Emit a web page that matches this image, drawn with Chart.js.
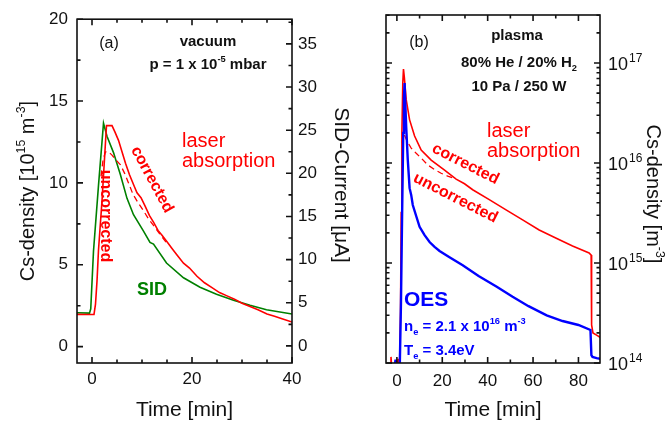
<!DOCTYPE html>
<html>
<head>
<meta charset="utf-8">
<script src="https://cdn.jsdelivr.net/npm/chart.js@4.4.0/dist/chart.umd.min.js"></script>
<style>
  html, body { margin: 0; padding: 0; background: #fff; }
  #wrap { position: relative; width: 668px; height: 427px; }
  #wrap canvas { position: absolute; left: 0; top: 0; }
</style>
</head>
<body>
<div id="wrap">
  <canvas id="panelA" width="668" height="427"></canvas>
  <canvas id="panelB" width="668" height="427"></canvas>
</div>
<script>
// ---- (a) vacuum: Cs density [1e15 m^-3] and SID current [uA] vs time [min]
var tCorrA = [-3, -1.5, 0.4, 0.7, 1.0, 1.3, 2.0, 2.7, 2.9, 3.5, 4.0, 4.6, 5.3, 6.0, 6.7, 7.5, 8.3, 9.0, 9.8, 10.6,
              11.5, 12.3, 13.2, 14.0, 15.0, 16.0, 17.0, 18.3, 19.5, 21.0, 22.5, 24.0, 25.5, 27.0, 28.5, 30.0, 31.6, 33.2, 35.0, 36.5, 38.0, 40.0];
var nCorrA = [1.97, 1.96, 1.97, 2.6, 4.0, 5.9, 8.9, 12.5, 13.5, 13.5, 13.5, 13.1, 12.6, 11.9, 11.2, 10.5, 9.9, 9.4, 9.1, 8.6,
              8.0, 7.6, 7.1, 6.8, 6.4, 6.0, 5.6, 5.1, 4.8, 4.3, 3.9, 3.6, 3.3, 3.1, 2.9, 2.65, 2.45, 2.25, 2.0, 1.85, 1.7, 1.5];

var tUncorrA = [1.8, 2.2, 2.7, 3.3, 4.0, 4.8, 5.7, 6.5, 7.3, 8.2, 9.2, 10.3, 11.3, 12.3, 13.5, 15.0];
var nUncorrA = [10.4, 11.4, 11.9, 11.9, 11.7, 11.4, 11.1, 10.6, 10.0, 9.3, 8.8, 8.3, 7.8, 7.4, 6.9, 6.3];

var tSidA = [-3, -0.5, -0.25, 0.3, 1.3, 2.3, 3.0, 4.3, 5.7, 7.0, 8.3, 10.3, 11.6, 12.3, 14.9, 18.3, 21.6, 24.9, 28.3, 31.6, 34.9, 40];
var iSidA = [3.85, 3.8, 4.3, 11.0, 18.6, 25.8, 24.3, 22.4, 19.8, 17.1, 15.2, 13.3, 12.0, 11.8, 9.6, 7.9, 6.8, 6.0, 5.3, 4.7, 4.2, 3.7];

var xMajorA = [0, 20, 40];
var xMinorA = [5, 10, 15, 25, 30, 35];
var yMajorA = [0, 5, 10, 15, 20];
var yMinorA = [2.5, 7.5, 12.5, 17.5];
var sidMajor = [0, 5, 10, 15, 20, 25, 30, 35];
var sidMinor = [2.5, 7.5, 12.5, 17.5, 22.5, 27.5, 32.5, 37.5];

// ---- (b) plasma: Cs density [m^-3] (laser absorption) and OES signal vs time [min]
var tCorrB = [-5, -3.0, -2.6, -2.3, 0.2, 0.5, 0.8, 1.2, 1.6, 1.9, 2.2, 2.6, 2.9, 3.3, 4.1, 5.6, 7.8, 10.7, 15.1, 21.0,
              26.1, 29.8, 33.4, 40.7, 48.1, 55.4, 62.7, 70.0, 77.4, 84.7, 85.6, 85.8, 86.4, 88.0, 90.0];
var nCorrB = [0.92e14, 0.92e14, 1.15e14, 0.92e14, 0.92e14, 1.1e14, 0.95e14, 1.0e14, 3.2e14, 3.2e15, 2.0e16, 6.3e16, 8.7e16, 7.1e16, 4.3e16, 2.7e16, 1.86e16, 1.35e16, 1.07e16, 8.5e15,
              6.9e15, 6.2e15, 5.4e15, 4.3e15, 3.4e15, 2.7e15, 2.14e15, 1.78e15, 1.48e15, 1.26e15, 1.2e15, 2.4e14, 2.0e14, 1.9e14, 1.78e14];

var tUncorrB = [2.2, 3.1, 4.5, 6.3, 8.5, 10.7, 13.5, 16.6, 19.5, 22.4, 26.0];
var nUncorrB = [1.6e16, 1.95e16, 1.65e16, 1.41e16, 1.25e16, 1.12e16, 9.6e15, 8.6e15, 7.9e15, 7.4e15, 6.9e15];

var tOes = [-5, -1.0, -0.6, -0.3, 1.3, 1.8, 2.3, 2.8, 3.1, 3.4, 3.7, 4.1, 4.8, 5.6, 6.3, 7.0, 8.5, 10.0, 12.2, 14.4,
            16.6, 18.8, 23.0, 29.0, 36.0, 44.0, 51.0, 58.0, 66.0, 73.0, 80.0, 85.3, 85.7, 86.2, 88.0, 90.0];
var nOes = [0.9e14, 0.9e14, 1.08e14, 0.9e14, 1.0e14, 4e14, 3e15, 2e16, 4.5e16, 6.3e16, 4.0e16, 2.3e16, 1.07e16, 5.6e15, 4.8e15, 3.8e15, 2.95e15, 2.3e15, 1.9e15, 1.62e15,
            1.45e15, 1.32e15, 1.15e15, 9.5e14, 7.4e14, 5.8e14, 4.6e14, 3.7e14, 3.0e14, 2.63e14, 2.4e14, 2.14e14, 1.2e14, 1.15e14, 1.12e14, 1.1e14];

var xMajorB = [0, 20, 40, 60, 80];
var xMinorB = [10, 30, 50, 70];
var decadesB = [1e14, 1e15, 1e16, 1e17];
var decadeExp = ['14', '15', '16', '17'];

var RED = '#ff0000', GREEN = '#008000', BLUE = '#0000ff', INK = '#111111';
var FONT = "'Liberation Sans', Arial, Helvetica, sans-serif";
Chart.defaults.font.family = FONT;
Chart.defaults.color = INK;

function pts(xs, ys) {
    return xs.map(function (x, i) { return { x: x, y: ys[i] }; });
}

// text with super/subscript pieces: parts = [[text, ''|'sup'|'sub'], ...], y is the baseline
function rich(ctx, parts, x, y, size, weight, align) {
    var small = size * 0.62;
    var fontFor = function (k) { return weight + ' ' + (k ? small : size) + 'px ' + FONT; };
    var w = 0;
    parts.forEach(function (p) { ctx.font = fontFor(p[1]); w += ctx.measureText(p[0]).width; });
    var cx = align === 'center' ? x - w / 2 : (align === 'right' ? x - w : x);
    ctx.textAlign = 'left';
    ctx.textBaseline = 'alphabetic';
    parts.forEach(function (p) {
        ctx.font = fontFor(p[1]);
        var dy = p[1] === 'sup' ? -size * 0.45 : (p[1] === 'sub' ? size * 0.28 : 0);
        ctx.fillText(p[0], cx, y + dy);
        cx += ctx.measureText(p[0]).width;
    });
}

// rotated labels are placed by their centre, flat ones by their baseline
function label(ctx, parts, x, y, size, weight, color, align, angle) {
    ctx.save();
    ctx.fillStyle = color;
    ctx.translate(x, y);
    if (angle) {
        ctx.rotate(angle * Math.PI / 180);
        rich(ctx, parts, 0, size * 0.35, size, weight, 'center');
    } else {
        rich(ctx, parts, 0, 0, size, weight, align);
    }
    ctx.restore();
}

// inward tick marks
function ticksX(ctx, a, scale, values, len) {
    values.forEach(function (v) {
        var p = scale.getPixelForValue(v);
        ctx.moveTo(p, a.bottom); ctx.lineTo(p, a.bottom - len);
        ctx.moveTo(p, a.top); ctx.lineTo(p, a.top + len);
    });
}
function ticksY(ctx, a, scale, values, len, onLeft, onRight) {
    values.forEach(function (v) {
        var p = scale.getPixelForValue(v);
        if (p < a.top - 0.5 || p > a.bottom + 0.5) return;
        if (onLeft) { ctx.moveTo(a.left, p); ctx.lineTo(a.left + len, p); }
        if (onRight) { ctx.moveTo(a.right, p); ctx.lineTo(a.right - len, p); }
    });
}
function frame(ctx, a) {
    ctx.strokeStyle = INK;
    ctx.lineWidth = 1.6;
    ctx.strokeRect(a.left, a.top, a.right - a.left, a.bottom - a.top);
}

var decorA = {
    id: 'decorA',
    afterDraw: function (chart) {
        var ctx = chart.ctx, a = chart.chartArea, s = chart.scales;
        ctx.save();
        frame(ctx, a);
        ctx.beginPath();
        ticksX(ctx, a, s.x, xMajorA, 6);
        ticksX(ctx, a, s.x, xMinorA, 3.5);
        ticksY(ctx, a, s.y, yMajorA, 6, true, false);
        ticksY(ctx, a, s.y, yMinorA, 3.5, true, false);
        ticksY(ctx, a, s.ySid, sidMajor, 6, false, true);
        ticksY(ctx, a, s.ySid, sidMinor, 3.5, false, true);
        ctx.stroke();

        // axis titles
        var cy = (a.top + a.bottom) / 2;
        label(ctx, [['Cs-density [10', ''], ['15', 'sup'], [' m', ''], ['-3', 'sup'], [']', '']], 27, cy, 20, 'normal', INK, 'center', -90);
        label(ctx, [['SID-Current [\u03bcA]', '']], 342, cy - 6, 21, 'normal', INK, 'center', 90);
        label(ctx, [['Time [min]', '']], (a.left + a.right) / 2, 416, 21, 'normal', INK, 'center');

        // annotations
        label(ctx, [['(a)', '']], 109, 48, 16, 'normal', INK, 'center');
        label(ctx, [['vacuum', '']], 208, 46, 15, 'bold', INK, 'center');
        label(ctx, [['p = 1 x 10', ''], ['-5', 'sup'], [' mbar', '']], 208, 69, 15, 'bold', INK, 'center');
        label(ctx, [['laser', '']], 182, 147, 20, 'normal', RED, 'left');
        label(ctx, [['absorption', '']], 182, 167, 20, 'normal', RED, 'left');
        label(ctx, [['corrected', '']], 153, 179, 16, 'bold', RED, 'center', 61.5);
        label(ctx, [['uncorrected', '']], 107, 216, 16, 'bold', RED, 'center', 90);
        label(ctx, [['SID', '']], 152, 295, 18, 'bold', GREEN, 'center');
        ctx.restore();
    }
};

var decorB = {
    id: 'decorB',
    afterDraw: function (chart) {
        var ctx = chart.ctx, a = chart.chartArea, s = chart.scales;
        var minors = [];
        decadesB.concat([1e17]).forEach(function (d, i) {
            if (i === decadesB.length) return;
            for (var m = 2; m <= 9; m++) minors.push(m * d);
        });
        ctx.save();
        frame(ctx, a);
        ctx.beginPath();
        ticksX(ctx, a, s.x, xMajorB, 6);
        ticksX(ctx, a, s.x, xMinorB, 3.5);
        ticksY(ctx, a, s.y, decadesB, 6, true, true);
        ticksY(ctx, a, s.y, minors, 3.5, true, true);
        ctx.stroke();

        // decade labels on the right axis
        decadesB.forEach(function (d, i) {
            var p = s.y.getPixelForValue(d);
            ctx.fillStyle = INK;
            ctx.textAlign = 'left';
            ctx.textBaseline = 'alphabetic';
            ctx.font = 'normal 18px ' + FONT;
            ctx.fillText('10', a.right + 8, p + 6.5);
            var w = ctx.measureText('10').width;
            ctx.font = 'normal 12px ' + FONT;
            ctx.fillText(decadeExp[i], a.right + 8 + w + 1, p - 1.5);
        });

        var cy = (a.top + a.bottom) / 2;
        label(ctx, [['Cs-density [m', ''], ['-3', 'sup'], [']', '']], 654, cy + 5, 20, 'normal', INK, 'center', 90);
        label(ctx, [['Time [min]', '']], (a.left + a.right) / 2, 416, 21, 'normal', INK, 'center');

        label(ctx, [['(b)', '']], 419, 47, 16, 'normal', INK, 'center');
        label(ctx, [['plasma', '']], 517, 40, 15, 'bold', INK, 'center');
        label(ctx, [['80% He / 20% H', ''], ['2', 'sub']], 519, 67, 15, 'bold', INK, 'center');
        label(ctx, [['10 Pa / 250 W', '']], 519, 91, 15, 'bold', INK, 'center');
        label(ctx, [['laser', '']], 487, 137, 20, 'normal', RED, 'left');
        label(ctx, [['absorption', '']], 487, 157, 20, 'normal', RED, 'left');
        label(ctx, [['corrected', '']], 466, 163, 16, 'bold', RED, 'center', 27);
        label(ctx, [['uncorrected', '']], 456, 197, 16, 'bold', RED, 'center', 27);
        label(ctx, [['OES', '']], 404, 306, 21, 'bold', BLUE, 'left');
        label(ctx, [['n', ''], ['e', 'sub'], [' = 2.1 x 10', ''], ['16', 'sup'], [' m', ''], ['-3', 'sup']], 404, 331, 15, 'bold', BLUE, 'left');
        label(ctx, [['T', ''], ['e', 'sub'], [' = 3.4eV', '']], 404, 355, 15, 'bold', BLUE, 'left');
        ctx.restore();
    }
};

var hiddenGrid = { display: false, drawTicks: false };
var noBorder = { display: false };

var chartA = new Chart(document.getElementById('panelA'), {
    type: 'line',
    data: {
        datasets: [
            { label: 'corrected', data: pts(tCorrA, nCorrA), yAxisID: 'y', borderColor: RED, borderWidth: 1.6 },
            { label: 'uncorrected', data: pts(tUncorrA, nUncorrA), yAxisID: 'y', borderColor: RED, borderWidth: 1.3, borderDash: [6, 4] },
            { label: 'SID', data: pts(tSidA, iSidA), yAxisID: 'ySid', borderColor: GREEN, borderWidth: 1.6 }
        ]
    },
    options: {
        responsive: false,
        animation: false,
        events: [],
        elements: { point: { radius: 0 }, line: { tension: 0, fill: false } },
        layout: { padding: { top: 15, right: 308, left: 0, bottom: 0 } },
        plugins: { legend: { display: false }, tooltip: { enabled: false } },
        scales: {
            x: {
                type: 'linear', min: -3, max: 40,
                grid: hiddenGrid, border: noBorder,
                ticks: { padding: 6, font: { size: 17 }, color: INK },
                afterBuildTicks: function (sc) { sc.ticks = xMajorA.map(function (v) { return { value: v }; }); },
                afterFit: function (sc) { sc.height = 64; }
            },
            y: {
                type: 'linear', position: 'left', min: -1.0, max: 20,
                grid: hiddenGrid, border: noBorder,
                ticks: { padding: 9, font: { size: 17 }, color: INK },
                afterBuildTicks: function (sc) { sc.ticks = yMajorA.map(function (v) { return { value: v }; }); },
                afterFit: function (sc) { sc.width = 77; }
            },
            ySid: {
                type: 'linear', position: 'right', min: -1.98, max: 37.86,
                grid: hiddenGrid, border: noBorder,
                ticks: { padding: 6, font: { size: 17 }, color: INK },
                afterBuildTicks: function (sc) { sc.ticks = sidMajor.map(function (v) { return { value: v }; }); },
                afterFit: function (sc) { sc.width = 68; }
            }
        }
    },
    plugins: [decorA]
});

var chartB = new Chart(document.getElementById('panelB'), {
    type: 'line',
    data: {
        datasets: [
            { label: 'OES', data: pts(tOes, nOes), borderColor: BLUE, borderWidth: 2.4 },
            { label: 'corrected', data: pts(tCorrB, nCorrB), borderColor: RED, borderWidth: 1.6 },
            { label: 'uncorrected', data: pts(tUncorrB, nUncorrB), borderColor: RED, borderWidth: 1.3, borderDash: [6, 4] }
        ]
    },
    options: {
        responsive: false,
        animation: false,
        events: [],
        elements: { point: { radius: 0 }, line: { tension: 0, fill: false } },
        layout: { padding: { top: 15, left: 386, right: 0, bottom: 0 } },
        plugins: { legend: { display: false }, tooltip: { enabled: false } },
        scales: {
            x: {
                type: 'linear', min: -4.8, max: 89.5,
                grid: hiddenGrid, border: noBorder,
                ticks: { padding: 8, font: { size: 17 }, color: INK },
                afterBuildTicks: function (sc) { sc.ticks = xMajorB.map(function (v) { return { value: v }; }); },
                afterFit: function (sc) { sc.height = 64; }
            },
            y: {
                type: 'logarithmic', position: 'right', min: 1e14, max: 3.02e17,
                grid: hiddenGrid, border: noBorder,
                ticks: { display: false },
                afterFit: function (sc) { sc.width = 68; }
            }
        }
    },
    plugins: [decorB]
});
</script>
</body>
</html>
